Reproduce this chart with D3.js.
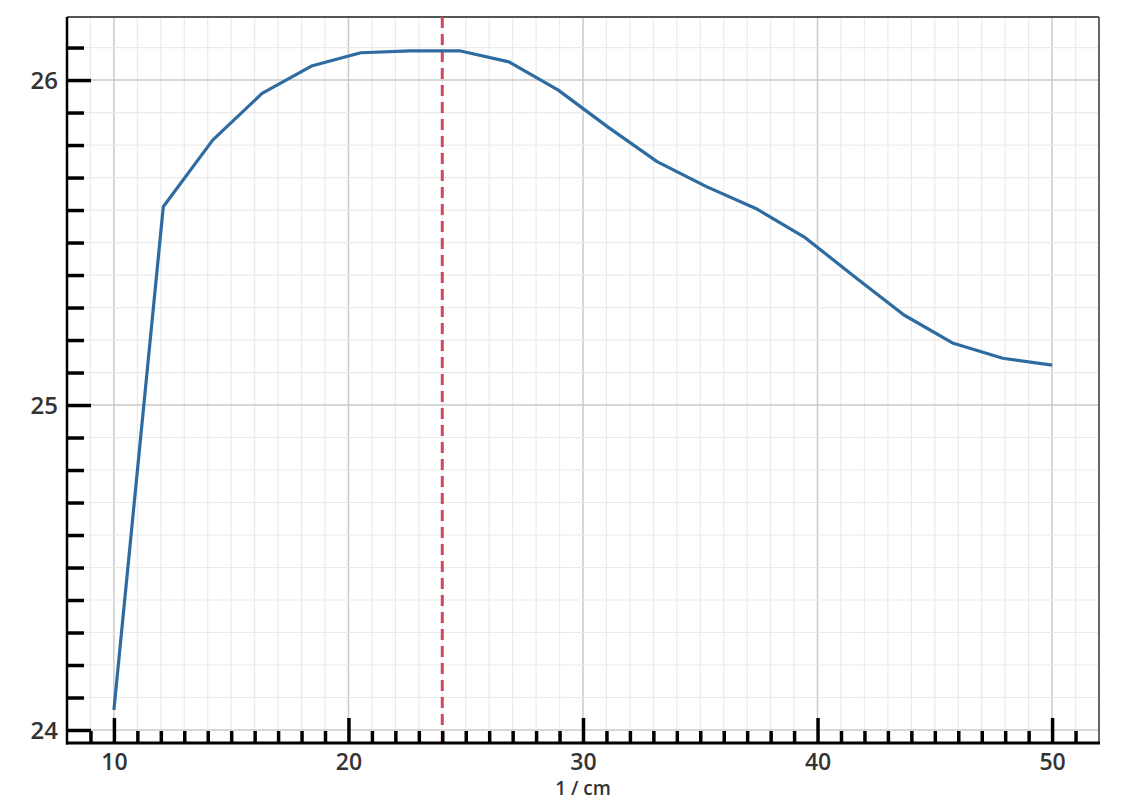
<!DOCTYPE html>
<html>
<head>
<meta charset="utf-8">
<script src="https://cdn.jsdelivr.net/npm/d3@7"></script>
<style>
  html, body { margin: 0; padding: 0; background: #fff; }
  svg { display: block; }
</style>
</head>
<body>
<svg id="chart" width="1131" height="800"></svg>
<script>
// ---- data ----
const lengths = [10, 12.105, 14.211, 16.316, 18.421, 20.526, 22.632, 24.737, 26.842, 28.947,
                 31.053, 33.158, 35.263, 37.368, 39.474, 41.579, 43.684, 45.789, 47.895, 50];
const values  = [24.062, 25.610, 25.815, 25.959, 26.043, 26.084, 26.090, 26.090, 26.056, 25.969,
                 25.856, 25.749, 25.672, 25.605, 25.515, 25.395, 25.277, 25.190, 25.144, 25.123];
const markerX = [24];
const xMajorTicks = [10, 20, 30, 40, 50];
const yMajorTicks = [24, 25, 26];
const xLabel = "1 / cm";

(function () {
// ---- layout ----
const pLeft = 67, pRight = 1099, pTop = 17, pBottom = 743;
const x = d3.scaleLinear().domain([8, 52]).range([pLeft, pRight]);
const y = d3.scaleLinear().domain([23.96, 26.194]).range([pBottom, pTop]);

const svg = d3.select("#chart");

const xMinor = d3.range(9, 52, 1);
const yMinor = d3.range(24, 26.15, 0.1).map(v => +v.toFixed(1));

// grid
const grid = svg.append("g");
grid.selectAll(".vx").data(xMinor).enter().append("line")
  .attr("x1", d => x(d)).attr("x2", d => x(d)).attr("y1", pTop).attr("y2", pBottom)
  .attr("stroke", d => xMajorTicks.includes(d) ? "#cacaca" : "#ebebeb")
  .attr("stroke-width", d => xMajorTicks.includes(d) ? 1.5 : 1.2);
grid.selectAll(".hy").data(yMinor).enter().append("line")
  .attr("x1", pLeft).attr("x2", pRight).attr("y1", d => y(d)).attr("y2", d => y(d))
  .attr("stroke", d => yMajorTicks.includes(d) ? "#cacaca" : "#ebebeb")
  .attr("stroke-width", d => yMajorTicks.includes(d) ? 1.5 : 1.2);

// frame (top / right)
svg.append("line").attr("x1", pLeft).attr("x2", pRight).attr("y1", pTop).attr("y2", pTop)
  .attr("stroke", "#555").attr("stroke-width", 2);
svg.append("line").attr("x1", pRight).attr("x2", pRight).attr("y1", pTop).attr("y2", pBottom)
  .attr("stroke", "#666").attr("stroke-width", 2);

// red dashed marker
svg.selectAll(".marker").data(markerX).enter().append("line")
  .attr("x1", d => x(d)).attr("x2", d => x(d)).attr("y1", pTop).attr("y2", pBottom)
  .attr("stroke", "#cc4a5a").attr("stroke-width", 3).attr("stroke-dasharray", "11,6");

// data line
const line = d3.line().x((d, i) => x(lengths[i])).y(d => y(d));
svg.append("path").datum(values)
  .attr("d", line).attr("fill", "none")
  .attr("stroke", "#2d6ba1").attr("stroke-width", 3.2).attr("stroke-linejoin", "round");

const fontFam = "'Open Sans', 'DejaVu Sans', sans-serif";

// y axis
const yAxisMinor = d3.axisRight(y).tickValues(yMinor.filter(v => !yMajorTicks.includes(v)))
  .tickSize(17).tickFormat("");
const gyMin = svg.append("g").attr("transform", `translate(${pLeft},0)`).call(yAxisMinor);
gyMin.select(".domain").remove();
gyMin.selectAll(".tick line").attr("stroke", "#000").attr("stroke-width", 3.5);

const yAxisMajor = d3.axisRight(y).tickValues(yMajorTicks).tickSize(24).tickFormat(d3.format("d"));
const gyMaj = svg.append("g").attr("transform", `translate(${pLeft},0)`).call(yAxisMajor);
gyMaj.select(".domain").remove();
gyMaj.selectAll(".tick line").attr("stroke", "#000").attr("stroke-width", 3.5);
gyMaj.selectAll(".tick text").attr("x", -9).attr("text-anchor", "end")
  .attr("dy", "0.36em")
  .style("font-family", fontFam).style("font-size", "24px").style("font-weight", 600)
  .attr("fill", "#333");

// x axis
const xAxisMinor = d3.axisTop(x).tickValues(xMinor.filter(v => !xMajorTicks.includes(v)))
  .tickSize(12).tickFormat("");
const gxMin = svg.append("g").attr("transform", `translate(0,${pBottom})`).call(xAxisMinor);
gxMin.select(".domain").remove();
gxMin.selectAll(".tick line").attr("stroke", "#000").attr("stroke-width", 3.5);

const xAxisMajor = d3.axisTop(x).tickValues(xMajorTicks).tickSize(25).tickFormat(d3.format("d"));
const gxMaj = svg.append("g").attr("transform", `translate(0,${pBottom})`).call(xAxisMajor);
gxMaj.select(".domain").remove();
gxMaj.selectAll(".tick line").attr("stroke", "#000").attr("stroke-width", 3.5);
gxMaj.selectAll(".tick text").attr("y", 27).attr("dy", "0")
  .style("font-family", fontFam).style("font-size", "23px").style("font-weight", 600)
  .attr("fill", "#333");

// axis lines (left and bottom)
svg.append("line").attr("x1", pLeft).attr("x2", pLeft).attr("y1", pTop).attr("y2", pBottom + 1.5)
  .attr("stroke", "#000").attr("stroke-width", 2.5);
svg.append("line").attr("x1", pLeft - 1).attr("x2", pRight + 1).attr("y1", pBottom).attr("y2", pBottom)
  .attr("stroke", "#000").attr("stroke-width", 3);

// x label
svg.append("text").attr("x", (x(10) + x(50)) / 2).attr("y", 795)
  .attr("text-anchor", "middle")
  .style("font-family", fontFam).style("font-size", "19px").style("font-weight", 600)
  .attr("fill", "#333")
  .text(xLabel);
})();
</script>
</body>
</html>
